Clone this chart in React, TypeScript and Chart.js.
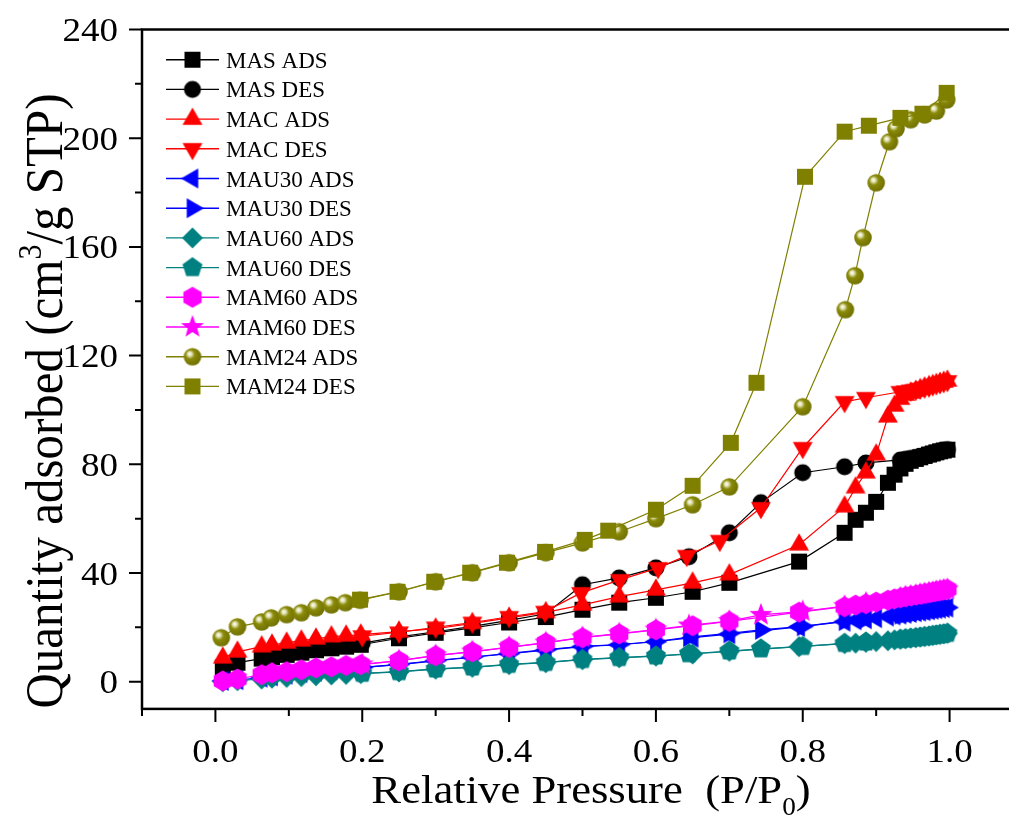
import React, { useEffect, useRef } from "react";
import { Chart, registerables } from "chart.js";

Chart.register(...registerables);

const SERIF = '"Liberation Serif", "Times New Roman", serif';

// Relative pressure grid shared by the adsorption branches of MAS, MAC, MAU30, MAU60, MAM60
const adsorptionP = [
  0.01, 0.03, 0.063, 0.077, 0.097, 0.117, 0.137, 0.158, 0.178, 0.198,
  0.25, 0.3, 0.35, 0.4, 0.45, 0.5, 0.55, 0.6, 0.65, 0.7, 0.795,
  0.857, 0.872, 0.886, 0.9, 0.916, 0.925, 0.933, 0.94, 0.947, 0.954,
  0.96, 0.966, 0.972, 0.977, 0.982, 0.987, 0.992, 0.997,
];

// Relative pressure grid shared by the desorption branches
const desorptionP = [
  0.997, 0.992, 0.987, 0.982, 0.977, 0.972, 0.966, 0.96, 0.954, 0.947, 0.94, 0.933,
  0.886, 0.857, 0.8, 0.743, 0.7, 0.645, 0.6, 0.55, 0.5, 0.45, 0.4, 0.35, 0.3, 0.25, 0.2,
];
const macDesorptionP = [
  0.997, 0.992, 0.987, 0.982, 0.977, 0.972, 0.966, 0.96, 0.954, 0.947, 0.94, 0.933,
  0.886, 0.857, 0.8, 0.743, 0.687, 0.642, 0.603, 0.551, 0.498, 0.449, 0.4, 0.35, 0.3, 0.25, 0.2,
];

const masAds = [
  5.2, 7.0, 8.5, 9.0, 9.9, 10.7, 11.6, 12.3, 12.9, 13.6,
  16.0, 18.0, 19.8, 21.8, 23.8, 26.5, 29.1, 30.9, 33.1, 36.4, 44.2,
  54.8, 59.6, 62.2, 66.2, 73.2, 76.2, 78.5, 80.2, 81.3, 82.0,
  82.6, 83.1, 83.6, 84.0, 84.4, 84.8, 85.1, 85.4,
];
const masDes = [
  85.4, 85.1, 84.8, 84.4, 84.0, 83.6, 83.2, 82.8, 82.5, 82.2, 81.9, 81.6,
  80.5, 79.1, 76.9, 65.9, 54.8, 46.0, 41.9, 38.2, 35.7, 25.0, 22.6, 20.4, 18.4, 16.5, 14.2,
];
const macAds = [
  8.8, 11.0, 12.9, 13.6, 14.3, 15.1, 15.8, 16.6, 16.9, 17.3,
  18.4, 19.5, 21.5, 23.5, 25.5, 28.3, 31.3, 33.8, 36.4, 39.4, 50.4,
  64.4, 71.4, 76.9, 83.5, 97.5, 101.5, 104.0, 105.5, 106.3, 107.0,
  107.6, 108.2, 108.7, 109.1, 109.5, 109.9, 110.3, 110.7,
];
const macDes = [
  110.7, 110.3, 109.9, 109.5, 109.1, 108.7, 108.3, 107.9, 107.5, 107.2, 106.9, 106.7,
  104.5, 103.0, 86.1, 64.0, 51.9, 46.4, 41.9, 37.5, 32.7, 25.8, 23.9, 21.8, 20.0, 18.2, 16.8,
];
const mau30Ads = [
  0.3, 0.6, 1.5, 2.0, 2.6, 3.2, 3.7, 4.2, 4.7, 5.2,
  6.3, 7.7, 9.0, 10.3, 11.6, 12.9, 13.6, 14.7, 16.2, 17.5, 20.2,
  22.1, 22.6, 23.0, 23.4, 24.0, 24.4, 24.7, 25.0, 25.3, 25.6,
  25.8, 26.0, 26.3, 26.5, 26.7, 26.9, 27.1, 27.3,
];
const mau30Des = [
  27.3, 27.1, 26.9, 26.6, 26.4, 26.2, 26.0, 25.7, 25.5, 25.2, 25.0, 24.7,
  23.2, 22.3, 20.4, 19.1, 17.8, 16.4, 14.8, 13.7, 13.0, 11.8, 10.4, 9.1, 7.8, 6.4, 5.3,
];
const mau60Ads = [
  0.0, 0.4, 1.0, 1.3, 1.6, 1.9, 2.2, 2.5, 2.7, 3.0,
  3.6, 4.6, 5.3, 6.3, 7.0, 8.1, 8.8, 9.4, 10.2, 11.2, 12.9,
  14.0, 14.2, 14.5, 14.8, 15.1, 15.4, 15.6, 15.8, 16.0, 16.2,
  16.4, 16.6, 16.8, 17.0, 17.2, 17.4, 17.6, 17.8,
];
const mau60Des = [
  17.8, 17.6, 17.4, 17.2, 17.0, 16.8, 16.6, 16.4, 16.2, 16.0, 15.8, 15.6,
  14.6, 14.1, 13.0, 12.1, 11.3, 10.3, 9.5, 8.9, 8.2, 7.1, 6.4, 5.4, 4.7, 3.7, 3.1,
];
const mam60Ads = [
  0.3, 1.0, 2.6, 3.3, 3.7, 4.4, 5.1, 5.5, 6.0, 6.3,
  7.7, 9.6, 11.0, 12.6, 14.3, 16.2, 17.6, 19.1, 20.6, 22.2, 25.6,
  27.6, 28.2, 28.7, 29.3, 30.0, 30.5, 30.9, 31.3, 31.6, 31.9,
  32.2, 32.5, 32.8, 33.0, 33.3, 33.5, 33.8, 34.0,
];
const mam60Des = [
  34.0, 33.8, 33.5, 33.3, 33.0, 32.8, 32.5, 32.2, 31.9, 31.6, 31.3, 30.9,
  29.0, 27.8, 25.9, 24.6, 22.3, 20.7, 19.2, 17.7, 16.3, 14.4, 12.7, 11.1, 9.7, 7.8, 6.4,
];

// MAM24 was measured on its own pressure points
const mam24AdsP = [
  0.008, 0.03, 0.063, 0.076, 0.097, 0.117, 0.137, 0.158, 0.177, 0.197,
  0.25, 0.3, 0.35, 0.4, 0.45, 0.5, 0.55, 0.6, 0.65, 0.7, 0.8,
  0.858, 0.871, 0.882, 0.9, 0.918, 0.927, 0.947, 0.966, 0.982, 0.996,
];
const mam24Ads = [
  16.2, 20.2, 22.0, 23.5, 24.7, 25.4, 27.2, 28.3, 29.1, 30.0,
  33.1, 36.8, 40.1, 43.8, 47.5, 51.1, 55.2, 60.0, 65.1, 71.7, 101.2,
  136.9, 149.4, 163.4, 183.6, 198.7, 203.5, 206.8, 208.6, 210.0, 214.1,
];
const mam24DesP = [
  0.996, 0.963, 0.933, 0.89, 0.857, 0.803, 0.737, 0.702, 0.65,
  0.6, 0.535, 0.503, 0.449, 0.397, 0.347, 0.298, 0.248, 0.197,
];
const mam24Des = [
  216.7, 209.0, 207.5, 204.6, 202.4, 185.8, 110.0, 87.9, 72.1,
  63.3, 55.6, 52.2, 47.8, 43.8, 40.1, 36.8, 33.1, 30.2,
];

const xTickValues = [0, 0.2, 0.4, 0.6, 0.8, 1.0];
const yTickValues = [0, 40, 80, 120, 160, 200, 240];

type Shape =
  | "square" | "circle" | "triUp" | "triDown" | "triLeft" | "triRight"
  | "diamond" | "pentagon" | "hexagon" | "star" | "sphere";

interface SeriesDef {
  label: string;
  x: number[];
  y: number[];
  color: string;
  shape: Shape;
}

const BLACK = "#000000";
const RED = "#ff0000";
const BLUE = "#0000ff";
const TEAL = "#008080";
const MAGENTA = "#ff00ff";
const OLIVE = "#808000";

const series: SeriesDef[] = [
  { label: "MAS ADS", x: adsorptionP, y: masAds, color: BLACK, shape: "square" },
  { label: "MAS DES", x: desorptionP, y: masDes, color: BLACK, shape: "circle" },
  { label: "MAC ADS", x: adsorptionP, y: macAds, color: RED, shape: "triUp" },
  { label: "MAC DES", x: macDesorptionP, y: macDes, color: RED, shape: "triDown" },
  { label: "MAU30 ADS", x: adsorptionP, y: mau30Ads, color: BLUE, shape: "triLeft" },
  { label: "MAU30 DES", x: desorptionP, y: mau30Des, color: BLUE, shape: "triRight" },
  { label: "MAU60 ADS", x: adsorptionP, y: mau60Ads, color: TEAL, shape: "diamond" },
  { label: "MAU60 DES", x: desorptionP, y: mau60Des, color: TEAL, shape: "pentagon" },
  { label: "MAM60 ADS", x: adsorptionP, y: mam60Ads, color: MAGENTA, shape: "hexagon" },
  { label: "MAM60 DES", x: desorptionP, y: mam60Des, color: MAGENTA, shape: "star" },
  { label: "MAM24 ADS", x: mam24AdsP, y: mam24Ads, color: OLIVE, shape: "sphere" },
  { label: "MAM24 DES", x: mam24DesP, y: mam24Des, color: OLIVE, shape: "square" },
];

// Paints one marker glyph onto a small canvas used as a Chart.js point style
function makeMarker(shape: Shape, color: string): HTMLCanvasElement {
  const S = 26;
  const c = document.createElement("canvas");
  c.width = S;
  c.height = S;
  const g = c.getContext("2d")!;
  const m = S / 2;
  g.fillStyle = color;

  const polygon = (r: number, n: number, startDeg: number, inner?: number) => {
    const count = inner ? n * 2 : n;
    g.beginPath();
    for (let i = 0; i < count; i++) {
      const a = ((startDeg + (i * 360) / count) * Math.PI) / 180;
      const rr = inner && i % 2 === 1 ? inner : r;
      const px = m + rr * Math.cos(a);
      const py = m + rr * Math.sin(a);
      if (i === 0) g.moveTo(px, py);
      else g.lineTo(px, py);
    }
    g.closePath();
    g.fill();
  };

  switch (shape) {
    case "square":
      g.fillRect(m - 8, m - 8, 16, 16);
      break;
    case "circle":
      g.beginPath();
      g.arc(m, m, 8.5, 0, Math.PI * 2);
      g.fill();
      break;
    case "triUp":
      polygon(11.5, 3, -90);
      break;
    case "triDown":
      polygon(11.5, 3, 90);
      break;
    case "triLeft":
      polygon(11.5, 3, 180);
      break;
    case "triRight":
      polygon(11.5, 3, 0);
      break;
    case "diamond":
      polygon(10.5, 4, -90);
      break;
    case "pentagon":
      polygon(10.5, 5, -90);
      break;
    case "hexagon":
      polygon(10.5, 6, -90);
      break;
    case "star":
      polygon(12, 5, -90, 5);
      break;
    case "sphere": {
      const r = 8.8;
      const grad = g.createRadialGradient(m - 3, m - 3, 0, m - 1.5, m - 1.5, r * 1.25);
      grad.addColorStop(0, "#ffffff");
      grad.addColorStop(0.18, "#e4e4b8");
      grad.addColorStop(0.42, "#8a8a0a");
      grad.addColorStop(1, "#6e6e00");
      g.fillStyle = grad;
      g.beginPath();
      g.arc(m, m, r, 0, Math.PI * 2);
      g.fill();
      break;
    }
  }
  return c;
}

type Part = { text: string; kind: "normal" | "sup" | "sub" };

// Draws a run of text with super/subscripts, centred on (x, y) baseline
function drawRich(ctx: CanvasRenderingContext2D, parts: Part[], x: number, y: number, size: number) {
  const small = Math.round(size * 0.62);
  const fontFor = (k: Part["kind"]) => `${k === "normal" ? size : small}px ${SERIF}`;
  let total = 0;
  const widths = parts.map((p) => {
    ctx.font = fontFor(p.kind);
    const w = ctx.measureText(p.text).width;
    total += w;
    return w;
  });
  let cx = x - total / 2;
  ctx.textAlign = "left";
  ctx.textBaseline = "alphabetic";
  parts.forEach((p, i) => {
    ctx.font = fontFor(p.kind);
    const dy = p.kind === "sup" ? -size * 0.4 : p.kind === "sub" ? size * 0.3 : 0;
    ctx.fillText(p.text, cx, y + dy);
    cx += widths[i];
  });
}

const xTitle: Part[] = [
  { text: "Relative Pressure  (P/P", kind: "normal" },
  { text: "0", kind: "sub" },
  { text: ")", kind: "normal" },
];
const yTitle: Part[] = [
  { text: "Quantity adsorbed (cm", kind: "normal" },
  { text: "3", kind: "sup" },
  { text: "/g STP)", kind: "normal" },
];

// glyphs of the axis text are drawn slightly wide
const TEXT_STRETCH = 1.09;

export default function App() {
  const ref = useRef<HTMLCanvasElement>(null);

  useEffect(() => {
    const canvas = ref.current;
    if (!canvas) return;

    const markers = series.map((s) => makeMarker(s.shape, s.color));

    const datasets = series.map((s, i) => ({
      label: s.label,
      data: s.x.map((p, k) => ({ x: p, y: s.y[k] })),
      showLine: true,
      borderColor: s.color,
      backgroundColor: s.color,
      borderWidth: 1.2,
      tension: 0,
      pointStyle: markers[i] as any,
      pointRadius: 8,
      pointHoverRadius: 8,
      order: series.length - i,
    }));

    const axesPlugin = {
      id: "originAxes",
      afterDraw(chart: any) {
        const { ctx, chartArea: a, scales } = chart;
        const xs = scales.x;
        const ys = scales.y;
        ctx.save();

        // frame
        ctx.strokeStyle = "#000";
        ctx.lineWidth = 2.5;
        ctx.strokeRect(a.left, a.top, a.right - a.left, a.bottom - a.top);

        // ticks
        ctx.lineWidth = 2;
        const majorLen = 13;
        const minorLen = 7;
        ctx.beginPath();
        yTickValues.forEach((v, i) => {
          const py = ys.getPixelForValue(v);
          ctx.moveTo(a.left - majorLen, py);
          ctx.lineTo(a.left, py);
          if (i < yTickValues.length - 1) {
            const mid = ys.getPixelForValue((v + yTickValues[i + 1]) / 2);
            ctx.moveTo(a.left - minorLen, mid);
            ctx.lineTo(a.left, mid);
          }
        });
        const step = xTickValues[1] - xTickValues[0];
        xTickValues.forEach((v, i) => {
          const px = xs.getPixelForValue(v);
          ctx.moveTo(px, a.bottom);
          ctx.lineTo(px, a.bottom + majorLen);
          const before = xs.getPixelForValue(v - step / 2);
          ctx.moveTo(before, a.bottom);
          ctx.lineTo(before, a.bottom + minorLen);
          if (i === xTickValues.length - 1) {
            const after = xs.getPixelForValue(v + step / 2);
            ctx.moveTo(after, a.bottom);
            ctx.lineTo(after, a.bottom + minorLen);
          }
        });
        ctx.stroke();

        // tick labels
        ctx.fillStyle = "#000";
        const tickSize = 34;
        ctx.font = `${tickSize}px ${SERIF}`;
        ctx.textBaseline = "alphabetic";
        yTickValues.forEach((v) => {
          const py = ys.getPixelForValue(v);
          ctx.save();
          ctx.translate(a.left - 24, py + tickSize * 0.34);
          ctx.scale(TEXT_STRETCH, 1);
          ctx.textAlign = "right";
          ctx.fillText(String(v), 0, 0);
          ctx.restore();
        });
        xTickValues.forEach((v) => {
          const px = xs.getPixelForValue(v);
          ctx.save();
          ctx.translate(px, a.bottom + 53);
          ctx.scale(TEXT_STRETCH, 1);
          ctx.textAlign = "center";
          ctx.fillText(v.toFixed(1), 0, 0);
          ctx.restore();
        });

        // axis titles
        ctx.save();
        ctx.translate(591, 803);
        ctx.scale(TEXT_STRETCH, 1);
        drawRich(ctx, xTitle, 0, 0, 41);
        ctx.restore();

        ctx.save();
        ctx.translate(62, 401);
        ctx.rotate(-Math.PI / 2);
        ctx.scale(1, TEXT_STRETCH);
        drawRich(ctx, yTitle, 0, 0, 49);
        ctx.restore();

        // legend
        const rowTop = 59.7;
        const rowGap = 29.7;
        ctx.font = `23px ${SERIF}`;
        ctx.textAlign = "left";
        series.forEach((s, i) => {
          const ry = rowTop + i * rowGap;
          ctx.strokeStyle = s.color;
          ctx.lineWidth = 1.4;
          ctx.beginPath();
          ctx.moveTo(166, ry);
          ctx.lineTo(219, ry);
          ctx.stroke();
          const mk = markers[i];
          ctx.drawImage(mk, 192.5 - mk.width / 2, ry - mk.height / 2);
          ctx.fillStyle = "#000";
          ctx.fillText(s.label, 226, ry + 8);
        });

        ctx.restore();
      },
    };

    const chart = new Chart(canvas, {
      type: "scatter",
      data: { datasets: datasets as any },
      options: {
        animation: false,
        responsive: false,
        devicePixelRatio: 1,
        layout: { autoPadding: false, padding: { top: 29.5, left: 0, right: 0, bottom: 0 } },
        plugins: {
          legend: { display: false },
          tooltip: { enabled: false },
        },
        scales: {
          x: {
            type: "linear",
            min: -0.1,
            max: 1.1,
            ticks: { display: false },
            grid: { display: false, drawTicks: false },
            border: { display: false },
            afterFit: (s: any) => {
              s.height = 107.1;
            },
          },
          y: {
            type: "linear",
            min: -10,
            max: 240,
            ticks: { display: false },
            grid: { display: false, drawTicks: false },
            border: { display: false },
            afterFit: (s: any) => {
              s.width = 142;
            },
          },
        },
      },
      plugins: [axesPlugin],
    });

    return () => chart.destroy();
  }, []);

  return (
    <div
      style={{
        position: "absolute",
        left: 0,
        top: 0,
        width: 1009,
        height: 816,
        overflow: "hidden",
        background: "#ffffff",
      }}
    >
      <canvas ref={ref} width={1023} height={816} style={{ display: "block", width: 1023, height: 816 }} />
    </div>
  );
}
